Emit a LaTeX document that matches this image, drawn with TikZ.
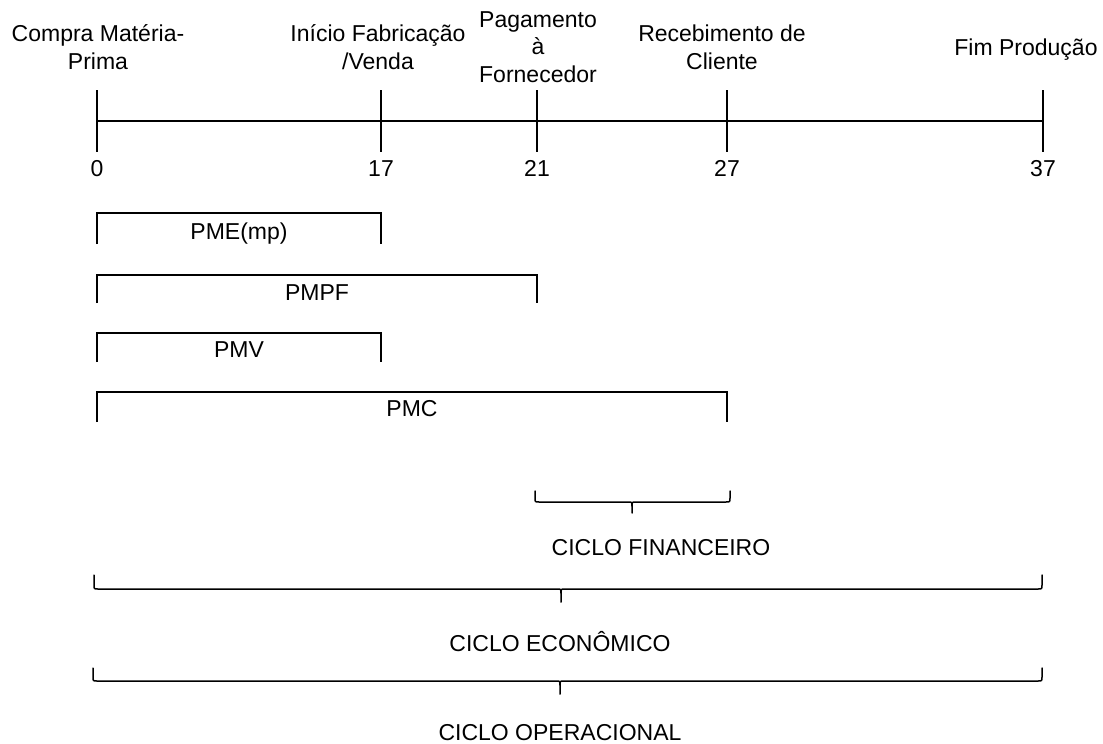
\documentclass[tikz,border=0pt]{standalone}
\usepackage{fontspec}
\setmainfont{Liberation Sans}
\usetikzlibrary{calc}
\tikzset{
  eixo/.style={line width=2.4pt},
  barra/.style={line width=2.4pt},
  chave/.style={line width=1.5pt, line cap=round},
  rotulo/.style={inner sep=0pt, font=\fontsize{23}{27.5}\selectfont},
}
% chave: #1 x esq, #2 x dir, #3 x ponta, #4 y topo, #5 y barra, #6 y ponta
\newcommand{\Chave}[6]{%
  \draw[chave] (#1,#4) -- (#1,{#5-4}) .. controls (#1,#5) .. ({#1+4},#5)
    -- ({#3-4},#5) .. controls (#3,#5) .. (#3,{#5+4}) -- (#3,#6);
  \draw[chave] (#3,{#5+4}) .. controls (#3,#5) .. ({#3+4},#5)
    -- ({#2-4},#5) .. controls (#2,#5) .. (#2,{#5-4}) -- (#2,#4);
}

\begin{document}
\begin{tikzpicture}[x=1pt, y=-1pt]
  \useasboundingbox (0,0) rectangle (1103,744);

  % eixo do tempo
  \foreach \x/\d in {97/0,381/17,537/21,727/27,1043/37} {
    \coordinate (t\d) at (\x,121);
    \draw[eixo] (t\d) ++(0,-31) -- ++(0,62);
    \node[rotulo, anchor=base] (n\d) at (\x,176.5) {\d};
  }
  \draw[eixo] (t0) -- (t37);

  \node[rotulo, align=center, anchor=base] (compra) at (98,69) {Compra Matéria-\\Prima};
  \node[rotulo, align=center, anchor=base] (inicio) at (378,69) {Início Fabricação\\/Venda};
  \node[rotulo, align=center, anchor=base] (pagto) at (538,82) {Pagamento\\à\\Fornecedor};
  \node[rotulo, align=center, anchor=base] (receb) at (722,69) {Recebimento de\\Cliente};
  \node[rotulo, anchor=base] (fim) at (1026,55) {Fim Produção};

  % prazos medios
  \draw[barra] (t0 |- 0,244) -- (t0 |- 0,213) -| (t17 |- 0,244);
  \node[rotulo, anchor=base] (pme) at (239,239) {PME(mp)};
  \draw[barra] (t0 |- 0,303) -- (t0 |- 0,275) -| (t21 |- 0,303);
  \node[rotulo, anchor=base] (pmpf) at (317,300.5) {PMPF};
  \draw[barra] (t0 |- 0,362) -- (t0 |- 0,333) -| (t17 |- 0,362);
  \node[rotulo, anchor=base] (pmv) at (239,357.5) {PMV};
  \draw[barra] (t0 |- 0,422) -- (t0 |- 0,392) -| (t27 |- 0,422);
  \node[rotulo, anchor=base] (pmc) at (412,416) {PMC};

  % ciclos
  \Chave{535}{730}{632}{491}{502}{513}
  \node[rotulo, anchor=base] (cfin) at (661,555) {CICLO FINANCEIRO};
  \Chave{94}{1042}{561}{575}{589}{602}
  \node[rotulo, anchor=base] (ceco) at (560,651) {CICLO ECONÔMICO};
  \Chave{93}{1042}{560}{668}{681}{694}
  \node[rotulo, anchor=base] (coper) at (560,740) {CICLO OPERACIONAL};
\end{tikzpicture}
\end{document}
